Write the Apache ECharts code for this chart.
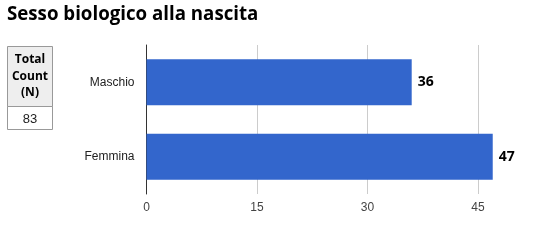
<!DOCTYPE html>
<html><head><meta charset="utf-8">
<script src="https://cdn.jsdelivr.net/npm/echarts@6/dist/echarts.min.js"></script>
<style>html,body{margin:0;padding:0;background:#fff}#c{width:536px;height:240px}</style>
</head><body><div id="c"></div>
<script>
const titleText = 'Sesso biologico alla nascita';
const categories = ['Maschio', 'Femmina'];
const values = [36, 47];
const tableHeader = ['Total', 'Count', '(N)'];
const totalCount = 83;

const chart = echarts.init(document.getElementById('c'), null, {renderer: 'canvas'});
chart.setOption({
  animation: false,
  title: {text: titleText, left: 7, top: 5, padding: 0,
    textStyle: {fontFamily: 'Open Sans', fontWeight: 'bold', fontSize: 18.7, color: '#000'}},
  grid: {left: 146.5, top: 45, width: 442, height: 149, containLabel: false, outerBoundsMode: 'none'},
  xAxis: {type: 'value', min: 0, max: 60, interval: 15,
    axisLine: {show: false}, axisTick: {show: false},
    splitLine: {lineStyle: {color: '#cccccc', width: 1}},
    axisLabel: {color: '#444', fontFamily: 'Liberation Sans', fontSize: 12, margin: 8}},
  yAxis: {type: 'category', data: categories, inverse: true,
    axisLine: {show: true, lineStyle: {color: '#333', width: 1}},
    axisTick: {show: false},
    axisLabel: {color: '#222', fontFamily: 'Liberation Sans', fontSize: 12, margin: 12}},
  series: [{type: 'bar', data: values, barWidth: '62%',
    itemStyle: {color: '#3366cc'},
    label: {show: true, position: 'right', distance: 6, color: '#000',
      fontFamily: 'Open Sans', fontWeight: 'bold', fontSize: 14}}],
  graphic: [
    {type: 'rect', shape: {x: 7.5, y: 46.5, width: 45, height: 60},
      style: {fill: '#eeeeee', stroke: '#999', lineWidth: 1}},
    {type: 'rect', shape: {x: 7.5, y: 106.5, width: 45, height: 23},
      style: {fill: '#ffffff', stroke: '#999', lineWidth: 1}},
    {type: 'text', x: 30, y: 60, style: {text: tableHeader[0], fill: '#000',
      font: 'bold 12px "Open Sans"', textAlign: 'center', textVerticalAlign: 'middle'}},
    {type: 'text', x: 30, y: 76.5, style: {text: tableHeader[1], fill: '#000',
      font: 'bold 12px "Open Sans"', textAlign: 'center', textVerticalAlign: 'middle'}},
    {type: 'text', x: 30, y: 93, style: {text: tableHeader[2], fill: '#000',
      font: 'bold 12px "Open Sans"', textAlign: 'center', textVerticalAlign: 'middle'}},
    {type: 'text', x: 30, y: 119, style: {text: String(totalCount), fill: '#222',
      font: '13px "Liberation Sans"', textAlign: 'center', textVerticalAlign: 'middle'}}
  ]
});
</script></body></html>
